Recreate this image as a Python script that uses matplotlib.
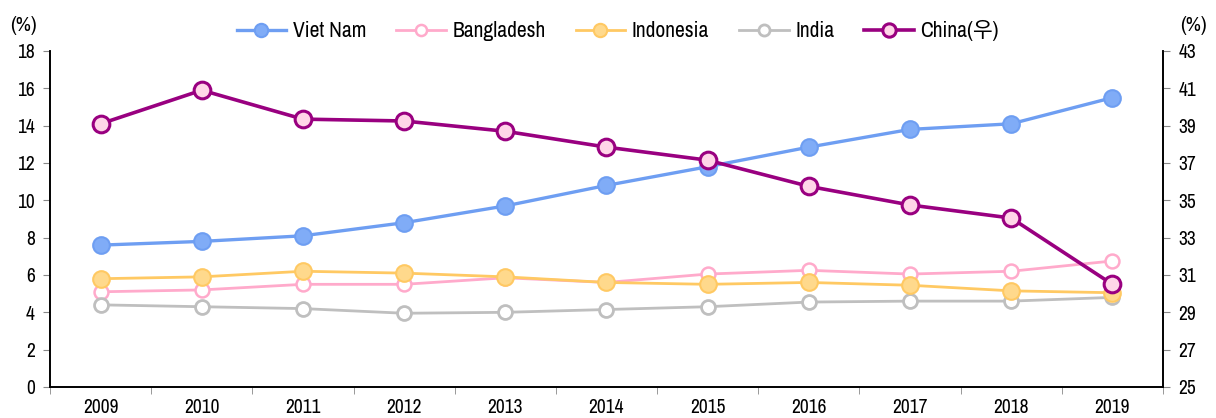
"""Export share line chart with a secondary axis for China."""

import matplotlib.pyplot as plt
from matplotlib import font_manager
from matplotlib.ticker import FixedLocator, NullFormatter

# pick a narrow sans if one is installed, the reference uses a condensed face
names = sorted({f.name for f in font_manager.fontManager.ttflist})
narrow = [n for n in names if "Narrow" in n or "Condensed" in n]
base = narrow[0] if narrow else "DejaVu Sans"
plt.rcParams["font.family"] = [base, "Noto Sans CJK KR", "DejaVu Sans"]
plt.rcParams["font.stretch"] = "condensed"

years = ["2009", "2010", "2011", "2012", "2013", "2014", "2015", "2016", "2017", "2018", "2019"]
viet_nam = [7.6, 7.8, 8.1, 8.8, 9.7, 10.8, 11.8, 12.85, 13.8, 14.1, 15.5]
bangladesh = [5.1, 5.2, 5.5, 5.5, 5.85, 5.6, 6.05, 6.25, 6.05, 6.2, 6.75]
indonesia = [5.8, 5.9, 6.2, 6.1, 5.9, 5.6, 5.5, 5.6, 5.45, 5.15, 5.05]
india = [4.4, 4.3, 4.2, 3.95, 4.0, 4.15, 4.3, 4.55, 4.6, 4.6, 4.8]
china = [39.1, 40.9, 39.35, 39.25, 38.7, 37.85, 37.15, 35.75, 34.75, 34.05, 30.5]

left_ticks = list(range(0, 19, 2))
right_ticks = list(range(25, 44, 2))

x = list(range(len(years)))

fig = plt.figure(figsize=(12.16, 4.18), dpi=100)
ax = fig.add_axes([0.0411, 0.0742, 0.9153, 0.8038])
ax2 = ax.twinx()

ax.plot(x, viet_nam, color="#6e9ef2", lw=2.4, marker="o", ms=12,
        mfc="#80acf7", mec="#6e9ef2", mew=1.5, label="Viet Nam", zorder=5)
ax.plot(x, bangladesh, color="#ffaacb", lw=2.0, marker="o", ms=10,
        mfc="white", mec="#ffaacb", mew=1.8, label="Bangladesh", zorder=3)
ax.plot(x, indonesia, color="#ffc963", lw=2.0, marker="o", ms=12,
        mfc="#ffd98c", mec="#ffc963", mew=1.5, label="Indonesia", zorder=4)
ax.plot(x, india, color="#bfbfbf", lw=2.0, marker="o", ms=10,
        mfc="white", mec="#bfbfbf", mew=2.0, label="India", zorder=3)
ax2.plot(x, china, color="#990080", lw=2.6, marker="o", ms=12,
         mfc="#ffd6e8", mec="#990080", mew=2.2, label="China(우)", zorder=6)

ax.set_xlim(-0.5, 10.5)
ax.set_ylim(0, 18)
ax2.set_ylim(25, 43)
ax.set_yticks(left_ticks)
ax2.set_yticks(right_ticks)

ax.set_xticks(x)
ax.set_xticklabels(years)
ax.xaxis.set_minor_locator(FixedLocator([i - 0.5 for i in range(len(years) + 1)]))
ax.xaxis.set_minor_formatter(NullFormatter())
ax.tick_params(axis="x", which="major", length=0, pad=8, labelsize=14)
ax.tick_params(axis="x", which="minor", length=5, color="#888888")
ax.tick_params(axis="y", length=5, color="#888888", labelsize=14, pad=6)
ax2.tick_params(axis="y", length=5, color="#888888", labelsize=14, pad=6)

for a in (ax, ax2):
    a.spines["top"].set_visible(False)
    for side in ("left", "right", "bottom"):
        a.spines[side].set_linewidth(1.2)
ax2.set_zorder(ax.get_zorder() + 1)
ax2.patch.set_visible(False)

fig.text(0.008, 0.925, "(%)", fontsize=15)
fig.text(0.992, 0.925, "(%)", fontsize=15, ha="right")

handles = ax.get_legend_handles_labels()[0] + ax2.get_legend_handles_labels()[0]
labels = [h.get_label() for h in handles]
leg = fig.legend(handles, labels, loc="center", bbox_to_anchor=(0.508, 0.926), ncol=5,
                 frameon=False, fontsize=15.5, handlelength=2.3, columnspacing=1.4,
                 handletextpad=0.3, markerscale=0.8)

fig.savefig("out.png", dpi=100)
